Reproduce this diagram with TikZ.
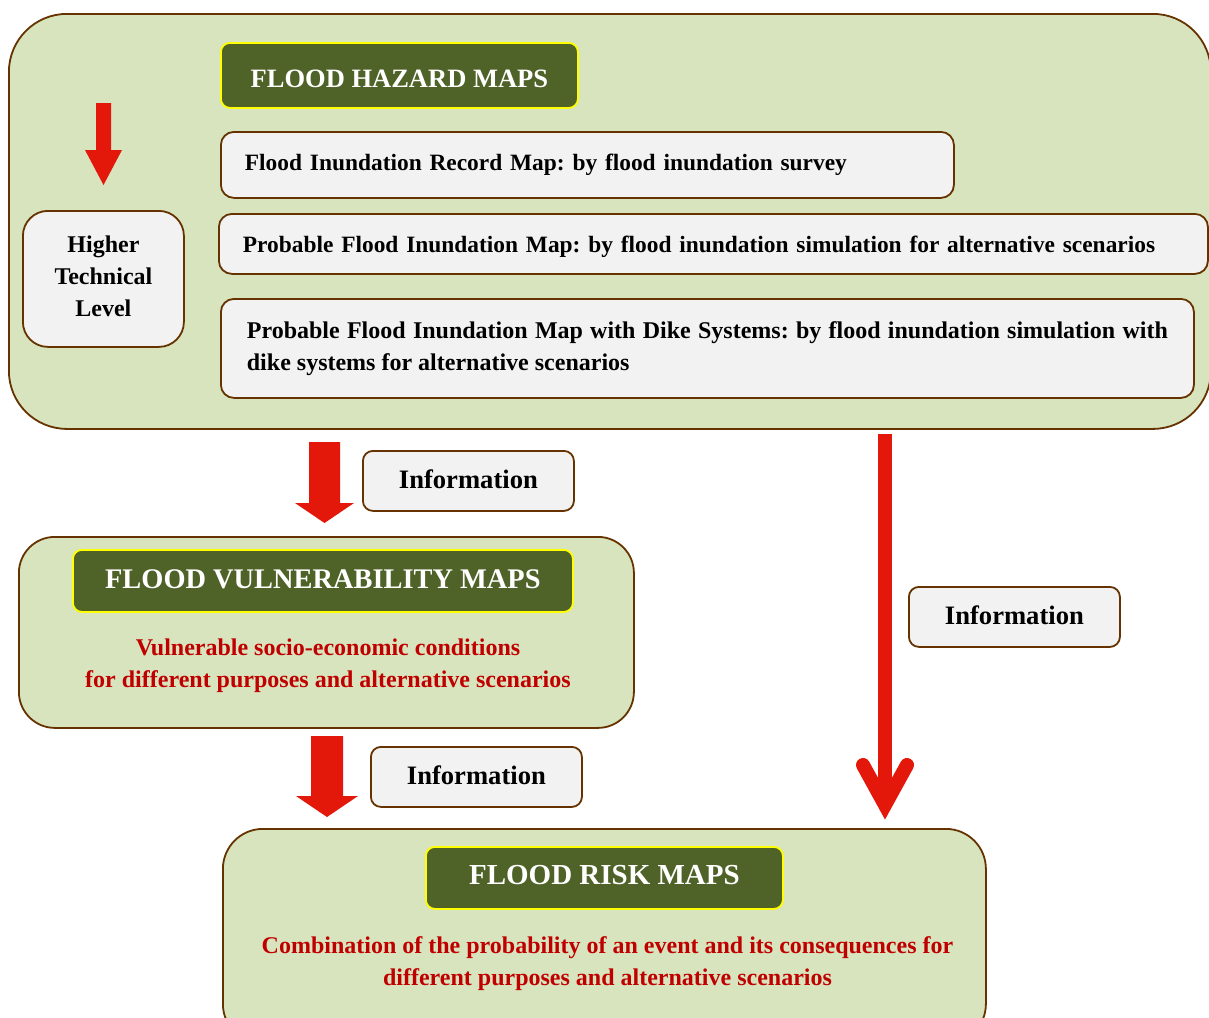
\documentclass[tikz,border=0pt]{standalone}
\usepackage{fontspec}
\setmainfont{Liberation Serif}
\usetikzlibrary{positioning}
\frenchspacing

\definecolor{panelfill}{HTML}{D7E4BD}
\definecolor{edgebrown}{HTML}{663300}
\definecolor{titlefill}{HTML}{4F6228}
\definecolor{titleedge}{HTML}{FFFF00}
\definecolor{boxfill}{HTML}{F2F2F2}
\definecolor{arrowred}{HTML}{E3170A}
\definecolor{notered}{HTML}{C00000}

\tikzset{
  panel/.style={draw=edgebrown, line width=1.8pt, fill=panelfill, anchor=north west, inner sep=0pt},
  titlebox/.style={draw=titleedge, line width=1.8pt, fill=titlefill, rounded corners=9pt,
    anchor=north west, inner sep=0pt, text=white, font=\bfseries},
  itembox/.style={draw=edgebrown, line width=1.8pt, fill=boxfill, rounded corners=13pt,
    anchor=north west, inner ysep=0pt, font=\bodyfont},
  infobox/.style={draw=edgebrown, line width=1.8pt, fill=boxfill, rounded corners=10pt,
    anchor=north west, inner sep=0pt, minimum width=211pt, minimum height=60pt,
    font=\fontsize{26.6}{32}\selectfont\bfseries},
  redtext/.style={text=notered, align=center, inner sep=0pt, font=\bodyfont},
  infoline/.style={draw=arrowred, line width=14pt},
}
\newcommand{\bodyfont}{\fontsize{24}{32}\selectfont\bfseries}
\newcommand{\itemfont}{\fontsize{23.4}{32}\selectfont\bfseries}
% nudge a label inside its box: extra reported height lowers it, extra depth raises it
\newcommand{\movedown}[2]{\raisebox{0pt}[\dimexpr\height+#1*2\relax][\depth]{#2}}
\newcommand{\moveup}[2]{\raisebox{0pt}[\height][\dimexpr\depth+#1*2\relax]{#2}}

\begin{document}
\begin{tikzpicture}[x=1pt, y=-1pt]
\clip (0,0) rectangle (1209,1017);
\fill[white] (0,0) rectangle (1209,1017);

% ---------- hazard maps panel ----------
\node[panel, rounded corners=58pt, minimum width=1202pt, minimum height=415pt] (hazard) at (8,13) {};
\node[titlebox, minimum width=357pt, minimum height=65pt, font=\fontsize{26.5}{30}\selectfont\bfseries]
  (hazardtitle) at (220,42) {\movedown{3pt}{FLOOD HAZARD MAPS}};

\node[itembox, font=\itemfont, minimum width=733pt, minimum height=66pt, inner xsep=24pt, text width=685pt, align=left]
  (record) at (220,131) {Flood Inundation Record Map: by flood inundation survey};
\node[itembox, font=\itemfont, minimum width=989pt, minimum height=60pt, inner xsep=24pt, text width=941pt, align=left]
  (probable) at (218,213) {\movedown{3pt}{Probable Flood Inundation Map: by flood inundation simulation for alternative scenarios}};
\node[itembox, minimum width=973pt, minimum height=99pt, inner xsep=26pt, text width=921pt, align=justify]
  (dike) at (220,298) {Probable Flood Inundation Map with Dike Systems: by flood inundation simulation with\linebreak dike systems for alternative scenarios};

\node[itembox, rounded corners=25pt, minimum width=161pt, minimum height=136pt, inner xsep=0pt]
  (level) at (22,210) {\moveup{1pt}{\begin{tabular}{@{}c@{}}Higher\\Technical\\Level\end{tabular}}};

% level arrow above the side box
\coordinate (levelarrow) at (103.5,103);
\fill[arrowred] (levelarrow) ++(-7.5,0) -- ++(15,0) -- ++(0,47) -- ++(11,0)
  -- ++(-18.5,35) -- ++(-18.5,-35) -- ++(11,0) -- cycle;

% ---------- vulnerability maps panel ----------
\node[panel, rounded corners=36pt, minimum width=615pt, minimum height=191pt] (vuln) at (18,536) {};
\node[titlebox, minimum width=500pt, minimum height=62pt, font=\fontsize{28.4}{32}\selectfont\bfseries]
  (vulntitle) at (72,549) {\moveup{2pt}{FLOOD VULNERABILITY MAPS}};
\node[redtext] (vulntext) at (328,666) {Vulnerable socio-economic conditions\\for different purposes and alternative scenarios};

% ---------- risk maps panel ----------
\node[panel, rounded corners=40pt, minimum width=763pt, minimum height=215pt] (risk) at (222,828) {};
\node[titlebox, minimum width=357pt, minimum height=62pt, font=\fontsize{29}{32}\selectfont\bfseries]
  (risktitle) at (425,846) {\moveup{2.5pt}{FLOOD RISK MAPS}};
\node[redtext] (risktext) at (607.5,964) {Combination of the probability of an event and its consequences for\\different purposes and alternative scenarios};

% ---------- information flow ----------
\coordinate (flowa) at (324.5,442);
\fill[arrowred] (flowa) ++(-15.5,0) -- ++(31,0) -- ++(0,61) -- ++(14,0)
  -- ++(-29.5,20) -- ++(-29.5,-20) -- ++(14,0) -- cycle;
\node[infobox] (infoa) at (362,450) {\moveup{2pt}{Information}};

\coordinate (flowb) at (327,736);
\fill[arrowred] (flowb) ++(-16,0) -- ++(32,0) -- ++(0,60) -- ++(15,0)
  -- ++(-31,21) -- ++(-31,-21) -- ++(15,0) -- cycle;
\node[infobox] (infob) at (370,746) {\moveup{2pt}{Information}};

\coordinate (flowtop) at (885,434);
\coordinate (flowtip) at (885,805);
\draw[infoline] (flowtop) -- (flowtip);
\draw[infoline, line cap=round, line join=miter] (flowtip) ++(-22,-40) -- (flowtip) -- ++(22,-40);
\node[infobox] (infoc) at (908,586) {\moveup{2pt}{Information}};
\end{tikzpicture}
\end{document}
